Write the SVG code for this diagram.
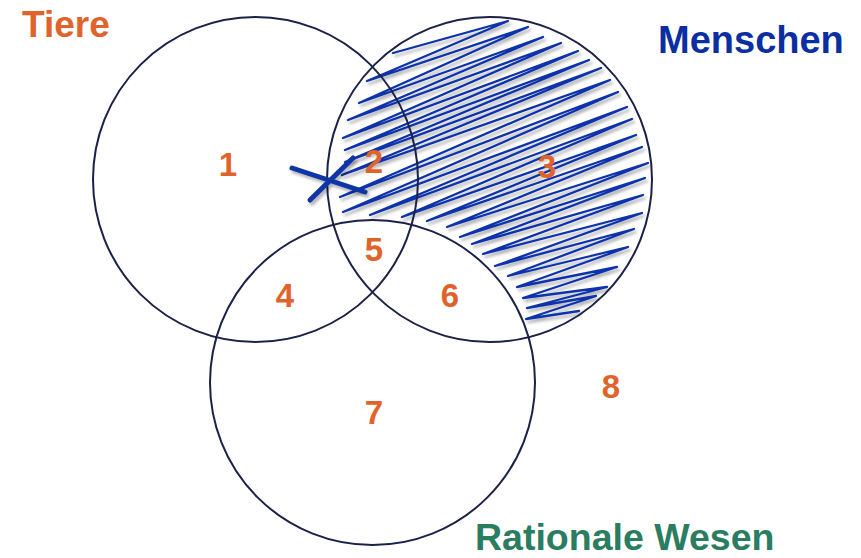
<svg xmlns="http://www.w3.org/2000/svg" width="861" height="558" viewBox="0 0 861 558">
<style>
.circ{fill:none;stroke:#1b2148;stroke-width:2}
.num{font-family:"Liberation Sans",Arial,sans-serif;font-weight:bold;font-size:33px;fill:#e0632b;text-anchor:middle}
.lbl{font-family:"Liberation Sans",Arial,sans-serif;font-weight:bold}
.hatch{fill:none;stroke:#0a33ab;stroke-width:2.3;stroke-linejoin:round;stroke-linecap:round}
.mark{fill:none;stroke:#0a36a6;stroke-width:5;stroke-linecap:round}
</style>
<defs>
<filter id="sh" x="-10%" y="-10%" width="130%" height="130%">
<feDropShadow dx="2" dy="3" stdDeviation="1.5" flood-color="#000" flood-opacity="0.3"/>
</filter>
</defs>
<rect width="861" height="558" fill="#fff"/>
<g id="hatching" filter="url(#sh)">
<polyline class="hatch" points="393,53 508,21 367,81 528,27 359,103 543,37 348,120 561,43 343,138 578,51 345,150 589,60 345,162 601,68 342,175 610,80 340,197 618,92 343,212 627,107 370,215 632,119 402,217 636,135 427,221 642,147 447,227 648,163 460,237 645,178 472,244 643,195 483,254 642,213 495,266 634,229 508,276 628,247 517,287 617,267 523,298 607,287 527,308 596,296 526,319 579,311"/>
</g>
<g id="tiere">
<circle class="circ" cx="255.5" cy="179.5" r="162.5"/>
<text class="lbl" x="22" y="37" font-size="37" fill="#e0632b">Tiere</text>
</g>
<g id="menschen">
<circle class="circ" cx="489.5" cy="179.5" r="162.5"/>
<text class="lbl" x="658" y="53" font-size="38" fill="#0b2fa3">Menschen</text>
</g>
<g id="rationale">
<circle class="circ" cx="372.5" cy="382.5" r="162.5"/>
<text class="lbl" x="475" y="550" font-size="37.5" fill="#2a7d60">Rationale Wesen</text>
</g>
<g id="regions">
<text class="num" x="228" y="176">1</text>
<text class="num" x="374" y="173">2</text>
<text class="num" x="547" y="178">3</text>
<text class="num" x="285" y="307">4</text>
<text class="num" x="374" y="261">5</text>
<text class="num" x="450" y="307">6</text>
<text class="num" x="374" y="424">7</text>
<text class="num" x="611" y="398">8</text>
</g>
<g id="cross" filter="url(#sh)">
<line class="mark" x1="292" y1="168" x2="365" y2="192"/>
<line class="mark" x1="310" y1="200" x2="353" y2="158"/>
</g>
</svg>
